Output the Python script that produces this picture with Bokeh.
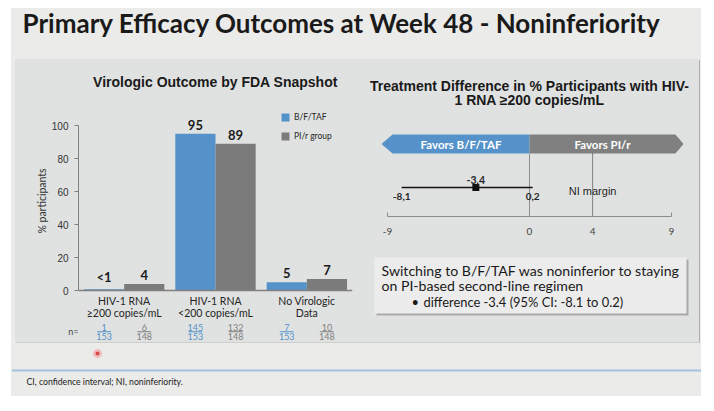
from bokeh.plotting import figure
from bokeh.models import (Range1d, FactorRange, Legend, LegendItem, ColumnDataSource,
                          FixedTicker, Span, LinearAxis)
from bokeh.layouts import row, column
from bokeh.transform import dodge
from bokeh.embed import file_html
from bokeh.resources import INLINE
from bokeh.core.properties import value

# ---------------- data ----------------
CATEGORIES = ["HIV-1 RNA\n≥200 copies/mL", "HIV-1 RNA\n<200 copies/mL", "No Virologic\nData"]
BFTAF_PCT = [0.7, 95, 5]
PIR_PCT = [4, 89, 7]
BFTAF_LABELS = ["<1", "95", "5"]
PIR_LABELS = ["4", "89", "7"]
BFTAF_N = ["1", "145", "7"]
BFTAF_TOTAL = ["153", "153", "153"]
PIR_N = ["6", "132", "10"]
PIR_TOTAL = ["148", "148", "148"]
Y_TICKS = [0, 20, 40, 60, 80, 100]
SERIES = ["B/F/TAF", "PI/r group"]

DIFF_EST = [-3.4]
DIFF_LO = [-8.1]
DIFF_HI = [0.2]
DIFF_EST_LABEL = ["-3,4"]
DIFF_LO_LABEL = ["-8,1"]
DIFF_HI_LABEL = ["0,2"]
NI_MARGIN = 4
DIFF_TICKS = [-9, 0, 4, 9]
FAVORS = ["Favors B/F/TAF", "Favors PI/r"]

# ---------------- styles ----------------
SLIDE_BG = "#ebebea"
PANEL_BG = "#e0e2e1"
BOX_BG = "#ececec"
BLUE = "#5592c9"
GRAY = "#7b7b7b"
TXT = "#262626"
CAL = value("Lato")
ARIAL = value("Liberation Sans")


def base_fig(w, h, bg, **kw):
    f = figure(width=w, height=h, output_backend="svg", toolbar_location=None, title=None, **kw)
    f.outline_line_color = None
    f.background_fill_color = bg
    f.border_fill_color = bg
    f.grid.visible = False
    return f


def canvas(w, h, bg, left=0, right=0):
    return base_fig(w, h, bg, x_range=Range1d(left, w - right), y_range=Range1d(h, 0),
                    x_axis_location=None, y_axis_location=None,
                    min_border_left=left, min_border_right=right, min_border_top=0, min_border_bottom=0)


# ---------------- slide title ----------------
p0 = canvas(690, 51, SLIDE_BG)
p0.text(x=[11], y=[14.5], text=["Primary Efficacy Outcomes at Week 48 - Noninferiority"],
        text_font=CAL, text_font_style="bold", text_font_size="26px", text_color="#1a1a1a",
        text_baseline="middle", text_align="left")

# ---------------- left bar chart ----------------
PX_PER_UNIT = 1.65
p1 = base_fig(340, 283, PANEL_BG, x_range=FactorRange(*CATEGORIES),
              y_range=Range1d(-52 / PX_PER_UNIT, 231 / PX_PER_UNIT),
              x_axis_location=None, min_border_left=63, min_border_right=3,
              min_border_top=0, min_border_bottom=0)
p1.text(x=[CATEGORIES[1]], y=[209 / PX_PER_UNIT], text=["Virologic Outcome by FDA Snapshot"],
        text_align="center", text_baseline="middle", text_font=ARIAL, text_font_style="bold",
        text_font_size="14px", text_color="#1a1a1a")

src = ColumnDataSource(dict(cat=CATEGORIES, b=BFTAF_PCT, g=PIR_PCT, bl=BFTAF_LABELS, gl=PIR_LABELS,
                            bn=BFTAF_N, bt=BFTAF_TOTAL, gn=PIR_N, gt=PIR_TOTAL))
xb = dodge("cat", -0.22, range=p1.x_range)
xg = dodge("cat", 0.22, range=p1.x_range)
rb = p1.vbar(x=xb, top="b", bottom=0, width=0.44, source=src, fill_color=BLUE, line_color=None)
rg = p1.vbar(x=xg, top="g", bottom=0, width=0.44, source=src, fill_color=GRAY, line_color=None)
for xx, ycol, tcol in ((xb, "b", "bl"), (xg, "g", "gl")):
    p1.text(x=xx, y=ycol, text=tcol, source=src, text_align="center",
            text_baseline="bottom", y_offset=-4, text_font=CAL, text_font_style="bold",
            text_font_size="13px", text_color="#1a1a1a")
p1.add_layout(Span(location=0, dimension="width", line_color="#7f7f7f", line_width=1.5))

# category labels
p1.text(x="cat", y=0, text="cat", source=src, y_offset=4, text_align="center", text_baseline="top",
        text_font=CAL, text_font_size="10.5px", text_color=TXT, text_line_height=1.05)
# n= fractions
N_ROW = -25
num_y = N_ROW + 4 / PX_PER_UNIT
den_y = N_ROW - 5 / PX_PER_UNIT
for xx, n, t, c in ((xb, "bn", "bt", BLUE), (xg, "gn", "gt", "#7f7f7f")):
    p1.text(x=xx, y=num_y, text=n, source=src, text_align="center", text_baseline="middle",
            text_font=CAL, text_font_size="9px", text_color=c)
    p1.text(x=xx, y=den_y, text=t, source=src, text_align="center", text_baseline="middle",
            text_font=CAL, text_font_size="9px", text_color=c)
    p1.rect(x=xx, y=N_ROW, width=14, height=0.8, width_units="screen", height_units="screen",
            source=src, fill_color=c, line_color=None)

ax = p1.yaxis[0]
ax.ticker = FixedTicker(ticks=Y_TICKS)
ax.bounds = (0, 100)
ax.axis_label = "% participants"
ax.axis_label_text_font = "Lato"
ax.axis_label_text_font_style = "normal"
ax.axis_label_text_font_size = "10.5px"
ax.axis_label_text_color = "#333333"
ax.axis_label_standoff = 1
ax.major_label_text_font = "Liberation Sans"
ax.major_label_text_font_size = "10px"
ax.major_label_text_color = "#333333"
ax.major_label_standoff = 6
ax.major_tick_out = 4
ax.major_tick_in = 0
ax.minor_tick_out = 0
ax.minor_tick_in = 0
ax.axis_line_color = "#808080"
ax.major_tick_line_color = "#808080"

# "n=" row caption as a bare label axis
n_axis = LinearAxis(ticker=FixedTicker(ticks=[N_ROW]), major_label_overrides={N_ROW: "n="},
                    axis_line_color=None, major_tick_line_color=None, minor_tick_line_color=None,
                    major_tick_out=0, major_tick_in=0, minor_tick_out=0, minor_tick_in=0,
                    major_label_standoff=-46, major_label_text_font="Lato",
                    major_label_text_font_size="9px", major_label_text_color="#444444")
p1.add_layout(n_axis, "left")

legend = Legend(items=[LegendItem(label=SERIES[0], renderers=[rb]), LegendItem(label=SERIES[1], renderers=[rg])],
                location=(202, 201), glyph_width=10, glyph_height=10, label_height=10, spacing=9,
                padding=0, margin=0, border_line_color=None, background_fill_alpha=0,
                label_text_font="Lato", label_text_font_size="8.5px", label_text_color=TXT, label_standoff=4)
p1.add_layout(legend)

# ---------------- right: forest plot ----------------
PX_PER_DIFF = 15.78
p2 = base_fig(344, 181, PANEL_BG, x_range=Range1d(-164 / PX_PER_DIFF, 166 / PX_PER_DIFF),
              y_range=Range1d(0, 157), y_axis_location=None, min_border_left=10, min_border_right=4,
              min_border_top=0, min_border_bottom=24)
TITLE2 = ["Treatment Difference in % Participants with HIV-", "1 RNA ≥200 copies/mL"]
p2.text(x=[0, 0], y=[131, 117], text=TITLE2, text_align="center", text_baseline="middle",
        text_font=ARIAL, text_font_style="bold", text_font_size="14px", text_color="#1a1a1a")

B_TOP, B_BOT = 82, 63
B_MID = (B_TOP + B_BOT) / 2
lo_tip, lo_body = -9.38, -8.68
hi_body, hi_tip = 9.25, 9.76
p2.patch(x=[lo_tip, lo_body, 0, 0, lo_body], y=[B_MID, B_TOP, B_TOP, B_BOT, B_BOT],
         fill_color=BLUE, line_color=None)
p2.patch(x=[0, hi_body, hi_tip, hi_body, 0], y=[B_TOP, B_TOP, B_MID, B_BOT, B_BOT],
         fill_color="#808080", line_color=None)
p2.text(x=[(lo_body + 0) / 2, (0 + hi_body) / 2], y=[B_MID, B_MID], text=FAVORS,
        text_align="center", text_baseline="middle", text_font=CAL, text_font_style="bold",
        text_font_size="11.5px", text_color="white")
p2.segment(x0=[0], y0=[0], x1=[0], y1=[B_BOT], line_color="#8c8c8c", line_width=1)
p2.segment(x0=[NI_MARGIN], y0=[0], x1=[NI_MARGIN], y1=[B_BOT], line_color="#222222",
           line_width=1, line_dash="1 1")
p2.text(x=[NI_MARGIN], y=[26], text=["NI margin"], text_align="center", text_baseline="middle",
        text_font=ARIAL, text_font_size="11px", text_color=TXT)
fsrc = ColumnDataSource(dict(est=DIFF_EST, lo=DIFF_LO, hi=DIFF_HI, y=[29],
                             el=DIFF_EST_LABEL, ll=DIFF_LO_LABEL, hl=DIFF_HI_LABEL))
p2.segment(x0="lo", y0="y", x1="hi", y1="y", source=fsrc, line_color="#111111", line_width=1.5)
p2.scatter(x="est", y="y", source=fsrc, marker="square", size=7, fill_color="#111111", line_color=None)
p2.text(x="est", y="y", text="el", source=fsrc, y_offset=-4, text_align="center", text_baseline="bottom",
        text_font=CAL, text_font_style="bold", text_font_size="10.5px", text_color=TXT)
p2.text(x="lo", y="y", text="ll", source=fsrc, y_offset=5, text_align="center", text_baseline="top",
        text_font=CAL, text_font_style="bold", text_font_size="10px", text_color=TXT)
p2.text(x="hi", y="y", text="hl", source=fsrc, y_offset=5, text_align="center", text_baseline="top",
        text_font=CAL, text_font_style="bold", text_font_size="10px", text_color=TXT)

xa = p2.xaxis[0]
xa.ticker = FixedTicker(ticks=DIFF_TICKS)
xa.major_label_overrides = {t: str(t) for t in DIFF_TICKS}
xa.bounds = (-9, 9)
xa.major_tick_in = 4
xa.major_tick_out = 0
xa.minor_tick_in = 0
xa.minor_tick_out = 0
xa.axis_line_color = "#8c8c8c"
xa.major_tick_line_color = "#8c8c8c"
xa.major_label_standoff = 11
xa.major_label_text_font = "Lato"
xa.major_label_text_font_size = "10px"
xa.major_label_text_color = "#444444"

# ---------------- right: conclusion box ----------------
p3 = canvas(344, 102, PANEL_BG, left=10, right=4)
p3.quad(left=[21], right=[333], top=[19], bottom=[75], fill_color="#a9a9a9", line_color=None)
p3.quad(left=[19], right=[331], top=[17], bottom=[73], fill_color=BOX_BG, line_color=None)
p3.text(x=[26, 26], y=[30, 44.5], text=["Switching to B/F/TAF was noninferior to staying",
                                        "on PI-based second-line regimen"],
        text_font=CAL, text_font_size="14.1px", text_color="#1a1a1a", text_baseline="middle")
p3.text(x=[56, 68], y=[61, 61], text=["•", "difference -3.4 (95% CI: -8.1 to 0.2)"],
        text_font=CAL, text_font_size="12.9px", text_color="#1a1a1a", text_baseline="middle")

# ---------------- footer ----------------
p4 = canvas(690, 54, SLIDE_BG)
p4.segment(x0=[0], y0=[28], x1=[690], y1=[28], line_color="#a4c2dd", line_width=2)
p4.text(x=[15], y=[39], text=["CI, confidence interval; NI, noninferiority."], text_font=CAL,
        text_font_size="8.7px", text_color="#222222", text_baseline="middle")
p4.scatter(x=[86], y=[11], size=9, fill_color="#f0b4b4", line_color=None, fill_alpha=0.8)
p4.scatter(x=[86], y=[11], size=4, fill_color="#d84848", line_color=None)

right_col = column(p2, p3, spacing=0, styles={"background-color": PANEL_BG})
middle = row(p1, right_col, spacing=0, margin=(0, 2, 0, 4),
             styles={"background-color": PANEL_BG, "box-shadow": "1px 1px 0px #b0b0b0"})
layout = column(p0, middle, p4, spacing=0, margin=(8, 0, 0, 11),
                styles={"background-color": SLIDE_BG})

open("out.html", "w").write(file_html(layout, INLINE))
